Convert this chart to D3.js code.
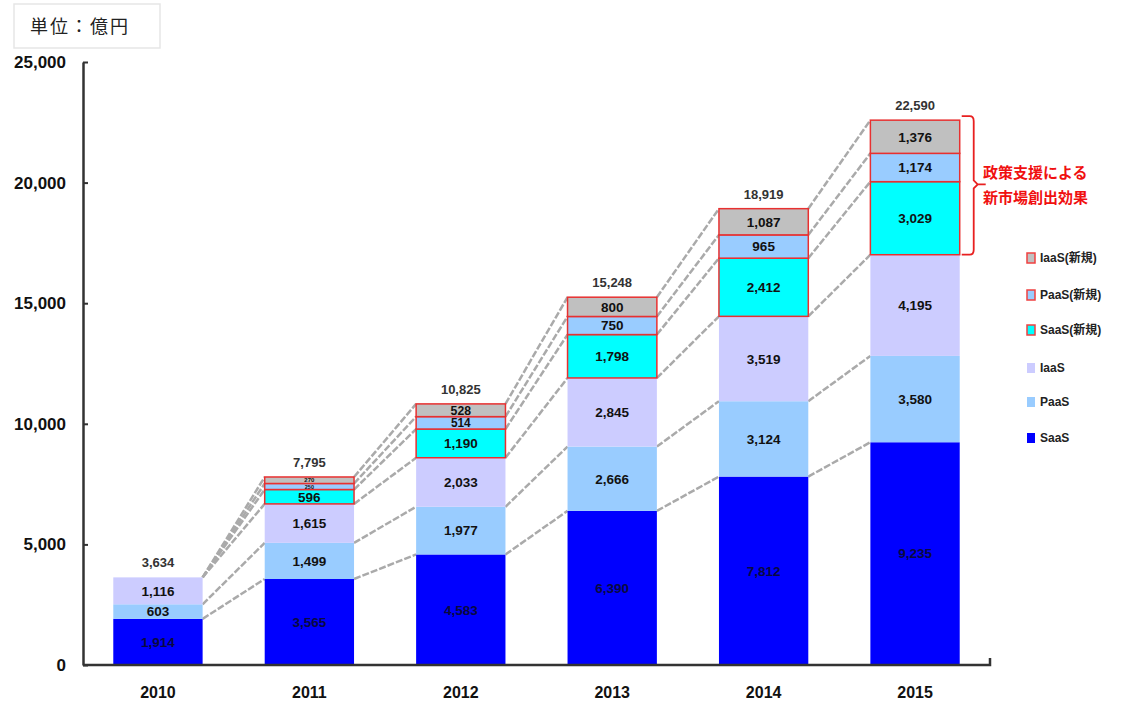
<!DOCTYPE html>
<html>
<head>
<meta charset="utf-8">
<script src="https://cdn.jsdelivr.net/npm/d3@7"></script>
<style>
  body { margin: 0; background: #fff; }
  svg { display: block; }
</style>
</head>
<body>
<svg id="chart"></svg>
<script>
const years = ["2010", "2011", "2012", "2013", "2014", "2015"];
const saas = [1914, 3565, 4583, 6390, 7812, 9235];
const paas = [603, 1499, 1977, 2666, 3124, 3580];
const iaas = [1116, 1615, 2033, 2845, 3519, 4195];
const saasNew = [0, 596, 1190, 1798, 2412, 3029];
const paasNew = [0, 250, 514, 750, 965, 1174];
const iaasNew = [0, 270, 528, 800, 1087, 1376];
const totals = ["3,634", "7,795", "10,825", "15,248", "18,919", "22,590"];
const yTicks = [0, 5000, 10000, 15000, 20000, 25000];

const seriesNames = ["SaaS", "PaaS", "IaaS", "SaaS(新規)", "PaaS(新規)", "IaaS(新規)"];
const seriesColors = ["#0000ff", "#99ccff", "#ccccff", "#00ffff", "#99ccff", "#c0c0c0"];
const isNew = [false, false, false, true, true, true];

const width = 1125, height = 706;
const svg = d3.select("#chart").attr("width", width).attr("height", height);

// stack
const rows = years.map((y, i) => ({
  year: y,
  SaaS: saas[i], PaaS: paas[i], IaaS: iaas[i],
  "SaaS(新規)": saasNew[i], "PaaS(新規)": paasNew[i], "IaaS(新規)": iaasNew[i]
}));
const stacked = d3.stack().keys(seriesNames)(rows);

const x = d3.scaleBand().domain(years).range([83, 990]).paddingInner(0.41).paddingOuter(0.2);
const y = d3.scaleLinear().domain([0, 25000]).range([665, 62]);

const fmt = d3.format(",");
const numFont = "'Liberation Sans', Arial, sans-serif";
const jpFont = "'Noto Sans CJK JP', sans-serif";

// connector lines between bars
const lines = svg.append("g");
for (let s = 0; s < seriesNames.length; s++) {
  for (let i = 0; i < years.length - 1; i++) {
    const a = stacked[s][i], b = stacked[s][i + 1];
    if (b[1] - b[0] <= 0) continue;
    lines.append("line")
      .attr("x1", x(years[i]) + x.bandwidth())
      .attr("y1", y(a[1]))
      .attr("x2", x(years[i + 1]))
      .attr("y2", y(b[1]))
      .attr("stroke", "#aaa")
      .attr("stroke-width", 2.5)
      .attr("stroke-dasharray", "7,2");
  }
}

// bars
const bars = svg.append("g");
stacked.forEach((layer, s) => {
  bars.selectAll(null)
    .data(layer.filter(d => d[1] - d[0] > 0))
    .join("rect")
    .attr("x", d => x(d.data.year))
    .attr("y", d => y(d[1]))
    .attr("width", x.bandwidth())
    .attr("height", d => y(d[0]) - y(d[1]))
    .attr("fill", seriesColors[s])
    .attr("stroke", isNew[s] ? "#e83030" : "none")
    .attr("stroke-width", 1.5);
});

// segment labels (shrink in thin segments)
stacked.forEach((layer, s) => {
  bars.selectAll(null)
    .data(layer.filter(d => d[1] - d[0] > 0))
    .join("text")
    .attr("x", d => x(d.data.year) + x.bandwidth() / 2)
    .attr("y", d => (y(d[0]) + y(d[1])) / 2)
    .attr("dy", "0.36em")
    .attr("text-anchor", "middle")
    .attr("font-family", numFont)
    .attr("font-weight", "bold")
    .attr("font-size", d => Math.min(13.5, y(d[0]) - y(d[1]) - 0.5))
    .attr("fill", s === 0 ? "#0a0a40" : "#111")
    .text(d => fmt(d[1] - d[0]));
});

// totals
svg.append("g").selectAll("text")
  .data(years)
  .join("text")
  .attr("x", d => x(d) + x.bandwidth() / 2)
  .attr("y", (d, i) => y(stacked[5][i][1]) - 10)
  .attr("text-anchor", "middle")
  .attr("font-family", numFont)
  .attr("font-weight", "bold")
  .attr("font-size", 13)
  .attr("fill", "#333")
  .text((d, i) => totals[i]);

// y axis
const yAxis = svg.append("g")
  .attr("transform", "translate(83,0)")
  .call(d3.axisLeft(y).tickValues(yTicks).tickFormat(fmt).tickSizeInner(-5).tickSizeOuter(0).tickPadding(17));
yAxis.select(".domain").attr("stroke", "#333").attr("stroke-width", 2.5);
yAxis.selectAll(".tick line").attr("stroke", "#333").attr("stroke-width", 2);
yAxis.selectAll("text")
  .attr("font-family", numFont)
  .attr("font-weight", "bold")
  .attr("font-size", 17)
  .attr("fill", "#111");

// x axis
const xAxis = svg.append("g")
  .attr("transform", "translate(0,665)")
  .call(d3.axisBottom(x).tickSize(0).tickPadding(22));
xAxis.select(".domain").attr("d", "M83,0H990V-7").attr("stroke", "#333").attr("stroke-width", 2.5).attr("fill", "none");
xAxis.selectAll("text")
  .attr("font-family", numFont)
  .attr("font-weight", "bold")
  .attr("font-size", 16)
  .attr("fill", "#111");

// unit box
svg.append("rect")
  .attr("x", 14).attr("y", 4).attr("width", 146).attr("height", 44)
  .attr("fill", "#fff").attr("stroke", "#e6e6e6").attr("stroke-width", 1.5);
svg.append("text")
  .attr("x", 30).attr("y", 33)
  .attr("font-family", jpFont)
  .attr("font-size", 18)
  .attr("letter-spacing", 2)
  .attr("fill", "#222")
  .text("単位：億円");

// bracket annotation
const bTop = y(stacked[5][5][1]), bBot = y(stacked[3][5][0]);
const bx = x("2015") + x.bandwidth() + 14;
const bMid = (bTop + bBot) / 2 - 3;
svg.append("path")
  .attr("d", `M${bx - 12},${bTop - 4} H${bx - 4} Q${bx},${bTop - 4} ${bx},${bTop + 1} V${bMid - 4} L${bx + 4},${bMid} L${bx},${bMid + 4} V${bBot - 5} Q${bx},${bBot} ${bx - 4},${bBot} H${bx - 12} M${bx + 4},${bMid} H${bx + 12}`)
  .attr("fill", "none")
  .attr("stroke", "#e82020")
  .attr("stroke-width", 1.8);
svg.append("text")
  .attr("x", 983).attr("y", 178)
  .attr("font-family", jpFont).attr("font-weight", "bold")
  .attr("font-size", 15).attr("fill", "#f01010")
  .text("政策支援による");
svg.append("text")
  .attr("x", 983).attr("y", 203)
  .attr("font-family", jpFont).attr("font-weight", "bold")
  .attr("font-size", 15).attr("fill", "#f01010")
  .text("新市場創出効果");

// legend
const legendOrder = [5, 4, 3, 2, 1, 0];
const legendY = [258, 295, 330, 368, 402, 438];
const legend = svg.append("g");
legendOrder.forEach((s, k) => {
  legend.append("rect")
    .attr("x", 1027).attr("y", legendY[k] - 5)
    .attr("width", 8).attr("height", 10)
    .attr("fill", seriesColors[s])
    .attr("stroke", isNew[s] ? "#f04040" : "none")
    .attr("stroke-width", 1.5);
  legend.append("text")
    .attr("x", 1040).attr("y", legendY[k])
    .attr("dy", "0.36em")
    .attr("font-family", numFont + ", " + jpFont)
    .attr("font-weight", "bold")
    .attr("font-size", 12)
    .attr("fill", "#222")
    .text(seriesNames[s]);
});
</script>
</body>
</html>
